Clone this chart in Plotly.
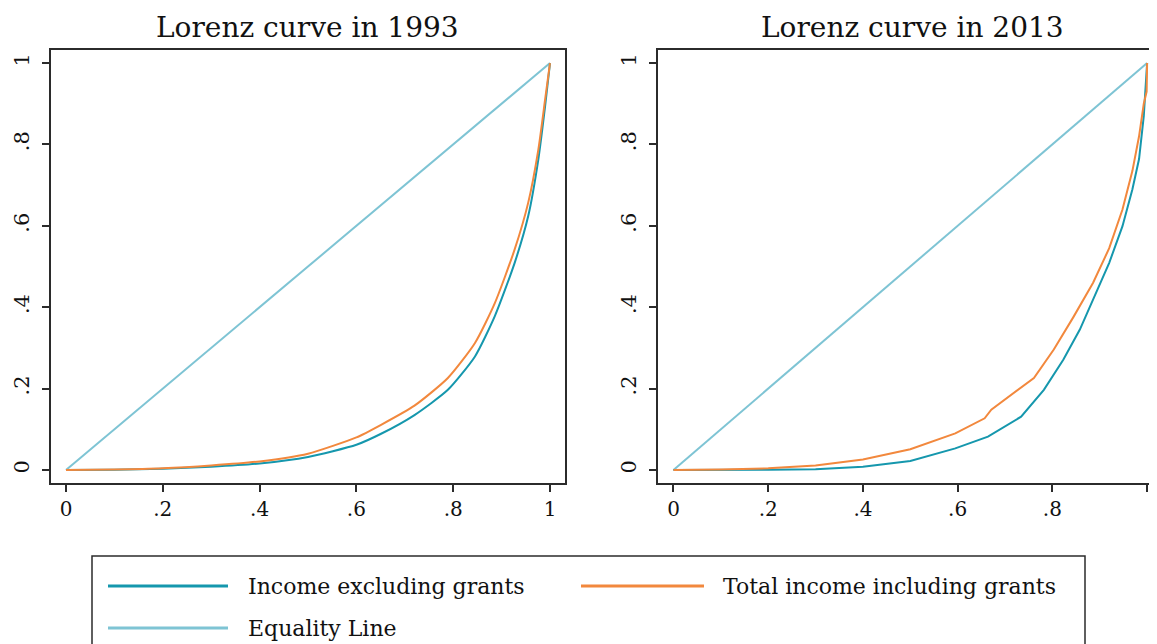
import plotly.graph_objects as go

# the page draws the figure 8px in from the window edge; only up to x=1149 is visible
OFF = 8
W, H = 1157 - 2 * OFF, 644 - OFF

# ---- data ----
x_1993 = [0, 0.1, 0.2, 0.3, 0.4, 0.5, 0.6, 0.651, 0.72, 0.789, 0.845, 0.886, 0.927, 0.955, 0.976, 0.99, 1.0]
excl_1993 = [0, 0.0005, 0.003, 0.008, 0.016, 0.032, 0.062, 0.089, 0.135, 0.197, 0.279, 0.378, 0.509, 0.624, 0.764, 0.895, 1.0]
incl_1993 = [0, 0.001, 0.004, 0.011, 0.021, 0.040, 0.080, 0.111, 0.158, 0.226, 0.312, 0.410, 0.542, 0.657, 0.788, 0.911, 1.0]

x_2013_excl = [0, 0.1, 0.2, 0.3, 0.4, 0.5, 0.595, 0.664, 0.734, 0.782, 0.823, 0.858, 0.886, 0.92, 0.948, 0.969, 0.983, 0.993, 1.0]
excl_2013 = [0, 0, 0.0005, 0.002, 0.008, 0.022, 0.053, 0.082, 0.131, 0.197, 0.271, 0.345, 0.419, 0.509, 0.599, 0.690, 0.764, 0.870, 1.0]
x_2013_incl = [0, 0.1, 0.2, 0.3, 0.4, 0.5, 0.595, 0.657, 0.671, 0.761, 0.803, 0.844, 0.886, 0.92, 0.948, 0.969, 0.983, 0.993, 0.999, 1.0]
incl_2013 = [0, 0.001, 0.004, 0.011, 0.026, 0.051, 0.090, 0.127, 0.148, 0.226, 0.296, 0.375, 0.460, 0.545, 0.640, 0.735, 0.820, 0.900, 0.930, 1.0]

equality_x = [0, 1]
equality_y = [0, 1]

tick_vals = [0, 0.2, 0.4, 0.6, 0.8, 1]
tick_text = ["0", ".2", ".4", ".6", ".8", "1"]
titles = ["Lorenz curve in 1993", "Lorenz curve in 2013"]
series_names = ["Income excluding grants", "Total income including grants", "Equality Line"]
colors = ["#1597ad", "#f2883d", "#7ec4d4"]

FONT = "DejaVu Serif"
AXC = "#2b2b2b"

fig = go.Figure()

panels = [
    (x_1993, excl_1993, x_1993, incl_1993, "x", "y", "spline"),
    (x_2013_excl, excl_2013, x_2013_incl, incl_2013, "x2", "y2", "linear"),
]
for xe, ex, xi, inc, xa, ya, shp in panels:
    fig.add_trace(go.Scatter(x=equality_x, y=equality_y, mode="lines", name=series_names[2],
                             line=dict(color=colors[2], width=2), xaxis=xa, yaxis=ya, showlegend=False))
    fig.add_trace(go.Scatter(x=xe, y=ex, mode="lines", name=series_names[0],
                             line=dict(color=colors[0], width=2, shape=shp, smoothing=0.6),
                             xaxis=xa, yaxis=ya, showlegend=False))
    fig.add_trace(go.Scatter(x=xi, y=inc, mode="lines", name=series_names[1],
                             line=dict(color=colors[1], width=2, shape=shp, smoothing=0.6),
                             xaxis=xa, yaxis=ya, showlegend=False))


def px_x(p):
    return (p - OFF) / W


def px_y(p):
    return 1 - (p - OFF) / H


ydom = [px_y(483), px_y(50)]
common_axis = dict(showgrid=False, zeroline=False, showline=True, linecolor=AXC, linewidth=1.5,
                   ticks="outside", ticklen=7, tickwidth=1.5, tickcolor=AXC,
                   tickvals=tick_vals, ticktext=tick_text)
xfont = dict(family=FONT, size=20, color="#111")
yfont = dict(family=FONT, size=21, color="#111")

fig.update_layout(
    width=W, height=H,
    margin=dict(l=0, r=0, t=0, b=0),
    paper_bgcolor="white", plot_bgcolor="white",
    showlegend=False,
    xaxis=dict(domain=[px_x(51), px_x(565)], range=[-0.031, 1.031], mirror=True, anchor="y",
               tickfont=xfont, **common_axis),
    yaxis=dict(domain=ydom, range=[-0.032, 1.032], mirror=True, anchor="x", tickangle=-90,
               tickfont=yfont, ticklabelstandoff=5, **common_axis),
    xaxis2=dict(domain=[px_x(658), 1.0], range=[-0.0327, 1.004], mirror=True, anchor="y2",
                tickfont=xfont, **common_axis),
    yaxis2=dict(domain=ydom, range=[-0.032, 1.032], mirror=False, anchor="x2", tickangle=-90,
                tickfont=yfont, ticklabelstandoff=5, **common_axis),
)

# panel titles
for tx, cx in zip(titles, [307, 912]):
    fig.add_annotation(text=tx, xref="paper", yref="paper", x=px_x(cx), y=px_y(28),
                       xanchor="center", yanchor="middle", showarrow=False,
                       font=dict(family=FONT, size=28, color="#111"))

# legend box (drawn as layout shapes + text)
fig.add_shape(type="rect", xref="paper", yref="paper", x0=px_x(92), x1=px_x(1085), y0=px_y(660), y1=px_y(556),
              line=dict(color=AXC, width=1.5), fillcolor="rgba(0,0,0,0)")
legend_pos = [(108, 228, 246, 586), (581, 704, 721, 586), (108, 228, 246, 628)]
for (lx0, lx1, tx, ly), name, col in zip(legend_pos, series_names, colors):
    fig.add_shape(type="line", xref="paper", yref="paper", x0=px_x(lx0), x1=px_x(lx1), y0=px_y(ly), y1=px_y(ly),
                  line=dict(color=col, width=3))
    fig.add_annotation(text=name, xref="paper", yref="paper", x=px_x(tx), y=px_y(ly),
                       xanchor="left", yanchor="middle", showarrow=False,
                       font=dict(family=FONT, size=22, color="#111"))

fig.write_html("out.html")
